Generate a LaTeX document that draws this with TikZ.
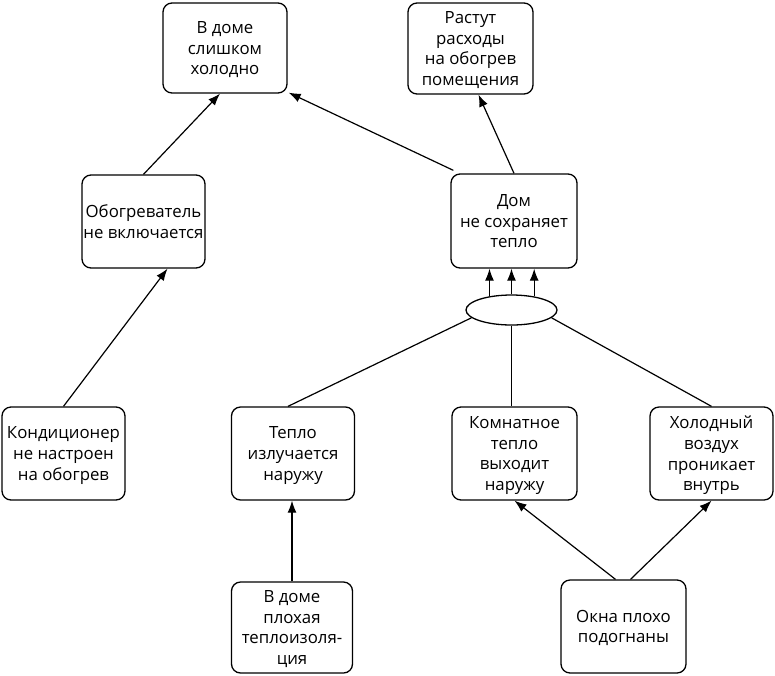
\documentclass[tikz,border=0pt]{standalone}
\usepackage{fontspec}
\setmainfont{Open Sans}
\usetikzlibrary{arrows.meta,shapes.geometric,calc}
\begin{document}
\begin{tikzpicture}[x=1pt,y=-1pt,
  box/.style={draw, line width=1.3pt, rounded corners=9pt, align=center, inner sep=0pt,
    font=\fontsize{16.8}{20.6}\selectfont, text depth=0pt},
  arr/.style={line width=1.2pt, -{Latex[length=12pt,width=9pt]}},
  ln/.style={line width=1.2pt}]
\useasboundingbox (0,0) rectangle (775,675);
\node[box, minimum width=124pt, minimum height=90pt] (b1) at (225,48) {В доме\\слишком\\холодно};
\node[box, minimum width=125pt, minimum height=91pt] (b2) at (470.5,48.5) {Растут\\расходы\\на обогрев\\помещения};
\node[box, minimum width=126pt, minimum height=94pt] (dom) at (514,221) {Дом\\не сохраняет\\тепло};
\node[box, minimum width=123pt, minimum height=93pt] (obog) at (143.5,221.5) {Обогреватель\\не включается};
\node[box, minimum width=123pt, minimum height=93pt] (kond) at (63.5,453.5) {Кондиционер\\не настроен\\на обогрев};
\node[box, minimum width=123pt, minimum height=93pt] (teplo) at (293,453.5) {Тепло\\излучается\\наружу};
\node[box, minimum width=125pt, minimum height=93pt] (komn) at (514.5,453.5) {Комнатное\\тепло\\выходит\\наружу};
\node[box, minimum width=123pt, minimum height=93pt] (hol) at (711.5,453.5) {Холодный\\воздух\\проникает\\внутрь};
\node[box, minimum width=121pt, minimum height=91pt] (izol) at (292,627.5) {В доме\\плохая\\теплоизоля-\\ция};
\node[box, minimum width=125pt, minimum height=93pt] (okna) at (623.5,626.5) {Окна плохо\\подогнаны};
\node[draw, line width=1.3pt, ellipse, minimum width=91pt, minimum height=30pt, inner sep=0pt] (ell) at (511.5,310) {};
% arrows to top
\draw[arr] (obog.north) -- ([xshift=-5pt]b1.south);
\draw[arr] ([xshift=3pt,yshift=3pt]dom.north west) -- ([xshift=1pt,yshift=1pt]b1.south east);
\draw[arr] (dom.north) -- ([xshift=8pt]b2.south);
\draw[arr] (kond.north) -- ([xshift=24pt]obog.south);
% ellipse to dom
\draw[arr] (ell.148.5) -- (ell.148.5 |- dom.south);
\draw[arr] (ell.north) -- (ell.north |- dom.south);
\draw[arr] (ell.31.5) -- (ell.31.5 |- dom.south);
% ellipse to causes
\draw[ln] (ell.191) -- ([xshift=-5pt]teplo.north);
\draw[ln] (ell.south) -- (ell.south |- komn.north);
\draw[ln] (ell.349) -- (hol.north);
% bottom arrows
\draw[arr] (izol.north) -- (izol.north |- teplo.south);
\draw[arr] ([xshift=-8pt]okna.north) -- (komn.south);
\draw[arr] ([xshift=7pt]okna.north) -- (hol.south);
\end{tikzpicture}
\end{document}
